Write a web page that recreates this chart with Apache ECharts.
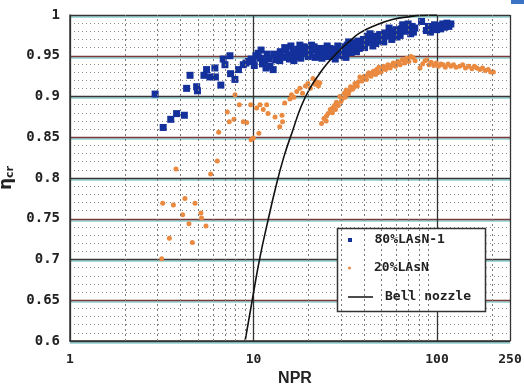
<!DOCTYPE html>
<html><head><meta charset="utf-8">
<script src="https://cdn.jsdelivr.net/npm/echarts@6/dist/echarts.min.js"></script>
<style>html,body{margin:0;padding:0;background:#fff}#c{width:524px;height:389px}</style>
</head><body><div id="c"></div>
<script>
// Tick labels / axis ranges
const xTicks = [1, 10, 100, 250];
const yTicks = [0.6, 0.65, 0.7, 0.75, 0.8, 0.85, 0.9, 0.95, 1];
const xMinorGrid = [2,3,4,5,6,7,8,9,20,30,40,50,60,70,80,90,200];
const seriesNames = ['80%LAsN-1', '20%LAsN', 'Bell nozzle'];

// 80%LAsN-1 : [NPR, eta_cr]
const lasn80 = [
 [2.91,0.903],[3.22,0.862],[3.54,0.872],[3.81,0.879],[4.20,0.877],[4.32,0.910],[4.51,0.926],
 [4.90,0.912],[4.95,0.907],[5.37,0.926],[5.55,0.933],[5.79,0.924],[6.16,0.935],[6.20,0.924],
 [6.64,0.914],[6.84,0.946],[6.99,0.939],[7.44,0.950],[7.50,0.928],[7.92,0.921],[8.28,0.933],
 [8.80,0.939],[9.10,0.941],[9.38,0.943],[9.70,0.946],[9.97,0.943],[10.3,0.950],[10.6,0.953],
 [10.9,0.947],[11.2,0.940],[11.5,0.944],[11.9,0.952],[12.3,0.937],[12.8,0.933],[13.2,0.945],
 [13.6,0.951],[14.0,0.955],[14.5,0.948],[15.0,0.957],[15.4,0.951],[16.0,0.962],[16.4,0.954],
 [16.9,0.949],[17.4,0.958],[17.9,0.963],[18.4,0.953],[19.0,0.956],[19.6,0.960],[20.3,0.952],
 [21.0,0.957],[21.7,0.948],[22.4,0.954],[23.2,0.959],[24.0,0.951],[24.8,0.956],[25.6,0.949],
 [26.5,0.953],[27.4,0.958],[28.3,0.951],[29.3,0.956],[30.3,0.961],[31.3,0.955],[32.4,0.963],
 [33.5,0.958],[34.7,0.966],[35.9,0.961],[37.1,0.968],[38.4,0.963],[39.7,0.970],[41.1,0.966],
 [42.5,0.972],[44.0,0.968],[45.5,0.974],[47.1,0.970],[48.7,0.976],[50.4,0.972],[52.1,0.978],
 [53.9,0.974],[55.8,0.980],[57.7,0.976],[59.7,0.982],[61.8,0.978],[63.9,0.983],[66.1,0.980],
 [68.4,0.985],[70.8,0.982],[73.2,0.986],[75.7,0.984],
 [11.0,0.957],[12.1,0.946],[13.9,0.944],[15.7,0.946],[17.1,0.952],[18.8,0.961],[20.7,0.963],
 [22.9,0.950],[25.2,0.962],[27.9,0.946],[30.8,0.950],[33.0,0.967],[36.4,0.955],[40.3,0.960],
 [43.2,0.977],[46.4,0.965],[51.3,0.967],[54.8,0.984],[60.6,0.973],[65.0,0.988],[71.9,0.977],
 [10.1,0.938],[11.7,0.935],[13.0,0.952],[14.8,0.960],[16.6,0.944],[18.1,0.947],[19.9,0.949],
 [21.4,0.961],[23.6,0.947],[26.1,0.959],[28.8,0.962],[31.9,0.948],[34.1,0.954],[37.7,0.959],
 [41.7,0.974],[44.7,0.962],[49.5,0.968],[56.7,0.970],[63.0,0.975],[69.6,0.989],[74.4,0.979],
 [82.4,0.992],[87.5,0.981],[89.8,0.986],[92.1,0.979],[94.5,0.984],[97.0,0.988],[99.5,0.982],
 [102.1,0.987],[104.8,0.983],[107.5,0.989],[110.3,0.985],[113.2,0.990],[116.1,0.986],[119.0,0.989]
];

// 20%LAsN : [NPR, eta_cr]
const lasn20 = [
 [3.16,0.701],[3.20,0.769],[3.48,0.726],[3.66,0.767],[3.78,0.811],[4.11,0.755],[4.23,0.775],
 [4.45,0.744],[4.64,0.721],[4.80,0.769],[5.17,0.757],[5.21,0.751],[5.51,0.741],[5.84,0.805],
 [6.35,0.821],[6.46,0.856],[7.20,0.881],[7.38,0.869],[7.83,0.872],[7.93,0.902],[8.37,0.890],
 [8.80,0.869],[9.18,0.868],[9.66,0.890],[9.70,0.847],[9.98,0.849],[10.4,0.886],[10.7,0.855],
 [10.85,0.890],[11.3,0.884],[11.8,0.890],[12.0,0.879],[13.1,0.875],[13.9,0.863],[14.3,0.877],
 [14.4,0.869],[14.8,0.892],
 [15.8,0.897],[16.1,0.902],[16.6,0.899],[17.2,0.906],[17.9,0.910],[18.5,0.904],[19.2,0.913],
 [19.8,0.916],[20.4,0.910],[21.1,0.922],[21.6,0.915],[22.0,0.918],[22.6,0.913],[23.0,0.917],
 [23.5,0.867],[24.2,0.873],[24.9,0.870],[25.5,0.879],[26.2,0.884],[26.9,0.880],[27.6,0.889],
 [28.3,0.893],[29.0,0.889],[29.6,0.900],[30.4,0.897],[31.2,0.904],[32.0,0.908],[32.9,0.903],
 [33.8,0.912],[34.7,0.909],[35.7,0.916],[36.8,0.913],[38.0,0.924],[39.0,0.919],[40.1,0.925],
 [41.3,0.921],[42.5,0.929],[43.7,0.925],[45.0,0.931],[46.3,0.927],[46.9,0.933],[48.2,0.936],
 [49.6,0.930],[51.0,0.937],[52.5,0.933],[54.0,0.939],[55.6,0.935],[57.8,0.941],[59.4,0.937],
 [61.2,0.943],[63.0,0.939],[64.8,0.945],[66.6,0.941],[68.4,0.947],[70.3,0.943],[72.2,0.949],
 [74.0,0.948],[76.0,0.944],
 [25.0,0.876],[27.0,0.886],[30.0,0.894],[33.3,0.907],[37.3,0.918],[41.8,0.926],[47.5,0.929],
 [53.2,0.936],[60.3,0.940],[67.5,0.944],[28.0,0.884],[31.6,0.899],[35.2,0.911],[39.6,0.922],
 [44.3,0.928],[50.3,0.934],[56.4,0.938],[62.1,0.941],[69.4,0.946],
 [80.8,0.935],[83.5,0.940],[86.0,0.944],[88.0,0.945],[90.5,0.939],[93.0,0.942],[96.0,0.938],
 [99.0,0.941],[102,0.937],[105,0.940],[108,0.939],[111,0.936],[115,0.940],[119,0.937],
 [123,0.939],[127,0.936],[133,0.937],[138,0.939],[143,0.935],[149,0.937],[155,0.934],
 [160,0.937],[165,0.935],[171,0.933],[177,0.935],[183,0.932],[190,0.933],[196,0.930],[203,0.930]
];

// Bell nozzle curve : [NPR, eta_cr]
const bellNozzle = [
 [9.0,0.600],[10.0,0.659],[10.85,0.703],[12.0,0.748],[13.1,0.785],[14.6,0.825],[16.4,0.859],
 [18.2,0.888],[20.3,0.910],[22.6,0.926],[25.1,0.940],[29.6,0.957],[33.5,0.968],[38.0,0.978],
 [47.0,0.988],[57.8,0.9947],[71.0,0.998],[81.0,0.9995],[100,1.0]
];

const chart = echarts.init(document.getElementById('c'), null, {renderer: 'canvas'});
const mono = '"DejaVu Sans Mono", monospace';
const majorColors = ['#3a3434','#7a3a3a'];
const yLo = yTicks[0], yHi = yTicks[yTicks.length - 1];
const legendText = {fontFamily: mono, fontWeight: 'bold', fontSize: 13, color: '#222', lineHeight: 16, padding: [0,0,0,7]};
function legendAt(name, top, icon, h) {
  return {orient: 'vertical', left: 348, top: top, padding: 0, itemWidth: 25, itemHeight: h,
    textStyle: legendText, selectedMode: false, z: 6, data: [{name: name, icon: icon}]};
}
chart.setOption({
  animation: false,
  backgroundColor: '#fff',
  grid: {left: 70, right: 14, top: 15, bottom: 48, containLabel: false, outerBoundsMode: 'none'},
  graphic: [
    {type: 'rect', shape: {x: 511, y: 0, width: 13, height: 4}, style: {fill: '#3b73c4'}},
    {type: 'rect', z: 5, shape: {x: 337.5, y: 228.5, width: 148, height: 83}, style: {fill: '#fff', stroke: '#333', lineWidth: 1.5}}
  ],
  xAxis: {
    type: 'log', logBase: 10, min: xTicks[0], max: xTicks[xTicks.length - 1],
    name: 'NPR', nameLocation: 'middle', nameGap: 30,
    nameTextStyle: {fontFamily: 'Liberation Sans, Arial', fontWeight: 'bold', fontSize: 16, color: '#222', padding: [0,0,0,10]},
    axisLine: {show: true, lineStyle: {color: '#333', width: 1.5}},
    axisTick: {show: false},
    axisLabel: {
      fontFamily: mono, fontWeight: 'bold', fontSize: 13, color: '#222', margin: 12, hideOverlap: false,
      showMaxLabel: true, showMinLabel: true,
      formatter: v => { const r = Math.round(v); return xTicks.indexOf(r) >= 0 ? String(r) : ''; }
    },
    splitLine: {show: true, lineStyle: {color: '#333', width: 1.3}}
  },
  yAxis: {
    type: 'value', min: yLo, max: yHi, interval: 0.05,
    name: '{a|η}{b|cr}', nameLocation: 'middle', nameGap: 50, nameRotate: 90,
    nameTextStyle: {rich: {
      a: {fontFamily: 'DejaVu Sans', fontSize: 17, fontWeight: 'bold', color: '#222'},
      b: {fontFamily: 'DejaVu Sans', fontSize: 11, fontWeight: 'bold', color: '#222', verticalAlign: 'bottom', padding: [6,0,0,0]}
    }},
    axisLine: {show: true, lineStyle: {color: '#333', width: 1.5}},
    axisTick: {show: false},
    axisLabel: {
      fontFamily: mono, fontWeight: 'bold', fontSize: 14, color: '#222', margin: 10,
      formatter: v => String(Math.round(v * 100) / 100)
    },
    splitLine: {show: true, lineStyle: {color: majorColors, width: 1.4, shadowColor: 'rgba(40,170,170,0.55)', shadowOffsetY: 1.5, shadowBlur: 0}},
    minorTick: {show: false, splitNumber: 5},
    minorSplitLine: {show: true, lineStyle: {color: '#8c8c8c', width: 1, type: [1, 3]}}
  },
  legend: [
    legendAt(seriesNames[0], 232, 'path://M0,0h1v1h-1z', 4),
    legendAt(seriesNames[1], 260, 'circle', 3),
    legendAt(seriesNames[2], 289, 'path://M0,0h25v1.5h-25z', 8)
  ],
  series: [
    {
      name: 'minorGrid', type: 'line', data: [], silent: true, z: 1,
      markLine: {
        silent: true, symbol: ['none', 'none'], label: {show: false}, animation: false,
        lineStyle: {color: '#7a7a7a', width: 1, type: [2, 3]},
        data: xMinorGrid.map(v => [{coord: [v, yLo]}, {coord: [v, yHi]}])
      }
    },
    {
      name: seriesNames[0], type: 'scatter', data: lasn80, symbol: 'rect', symbolSize: 7,
      itemStyle: {color: '#13309b', opacity: 1}, z: 3
    },
    {
      name: seriesNames[1], type: 'scatter', data: lasn20, symbol: 'circle', symbolSize: 5,
      itemStyle: {color: '#ea8a40', opacity: 1}, z: 3
    },
    {
      name: seriesNames[2], type: 'line', data: bellNozzle, smooth: true, symbol: 'none',
      lineStyle: {color: '#111', width: 1.6}, itemStyle: {color: '#111'}, z: 4
    }
  ]
});
</script></body></html>
